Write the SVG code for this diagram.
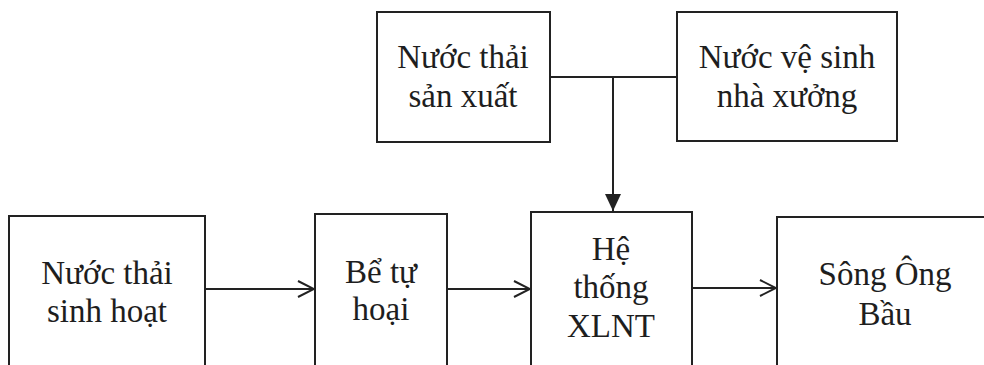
<svg xmlns="http://www.w3.org/2000/svg" width="984" height="365" viewBox="0 0 984 365">
<style>
.b{fill:#fff;stroke:#222;stroke-width:2}
text{font-family:"Liberation Serif","Times New Roman",serif;font-size:33px;fill:#1e1e1e;text-anchor:middle}
.c{fill:none;stroke:#222;stroke-width:2}
</style>
<defs>
<marker id="open" viewBox="0 0 18 20" refX="17" refY="10" markerWidth="18" markerHeight="20" markerUnits="userSpaceOnUse" orient="auto">
<path d="M1,2 L17,10 L1,18" fill="none" stroke="#222" stroke-width="2"/>
</marker>
<marker id="fill" viewBox="0 0 16 17" refX="8" refY="17" markerWidth="16" markerHeight="17" markerUnits="userSpaceOnUse" orient="0">
<path d="M0,0 L16,0 L8,17 Z" fill="#222"/>
</marker>
</defs>
<rect width="984" height="365" fill="#fff"/>
<g id="connectors">
<path class="c" d="M550,77 H677"/>
<path class="c" d="M613,77 V211" marker-end="url(#fill)"/>
<path class="c" d="M205,289 H314" marker-end="url(#open)"/>
<path class="c" d="M447,289 H530" marker-end="url(#open)"/>
<path class="c" d="M692,288 H776" marker-end="url(#open)"/>
</g>
<g id="n1"><rect class="b" x="377" y="12" width="173" height="130"/><text x="463" y="68">Nước thải</text><text x="463" y="107">sản xuất</text></g>
<g id="n2"><rect class="b" x="677" y="12" width="220" height="129"/><text x="787" y="68">Nước vệ sinh</text><text x="787" y="107">nhà xưởng</text></g>
<g id="n3"><rect class="b" x="9" y="216" width="196" height="160"/><text x="107" y="284">Nước thải</text><text x="107" y="322">sinh hoạt</text></g>
<g id="n4"><rect class="b" x="315" y="214" width="132" height="160"/><text x="381" y="283">Bể tự</text><text x="381" y="320">hoại</text></g>
<g id="n5"><rect class="b" x="531" y="212" width="161" height="160"/><text x="611" y="260">Hệ</text><text x="611" y="298">thống</text><text x="611" y="337">XLNT</text></g>
<g id="n6"><rect class="b" x="777" y="217" width="220" height="160"/><text x="885" y="285">Sông Ông</text><text x="885" y="325">Bầu</text></g>
</svg>
